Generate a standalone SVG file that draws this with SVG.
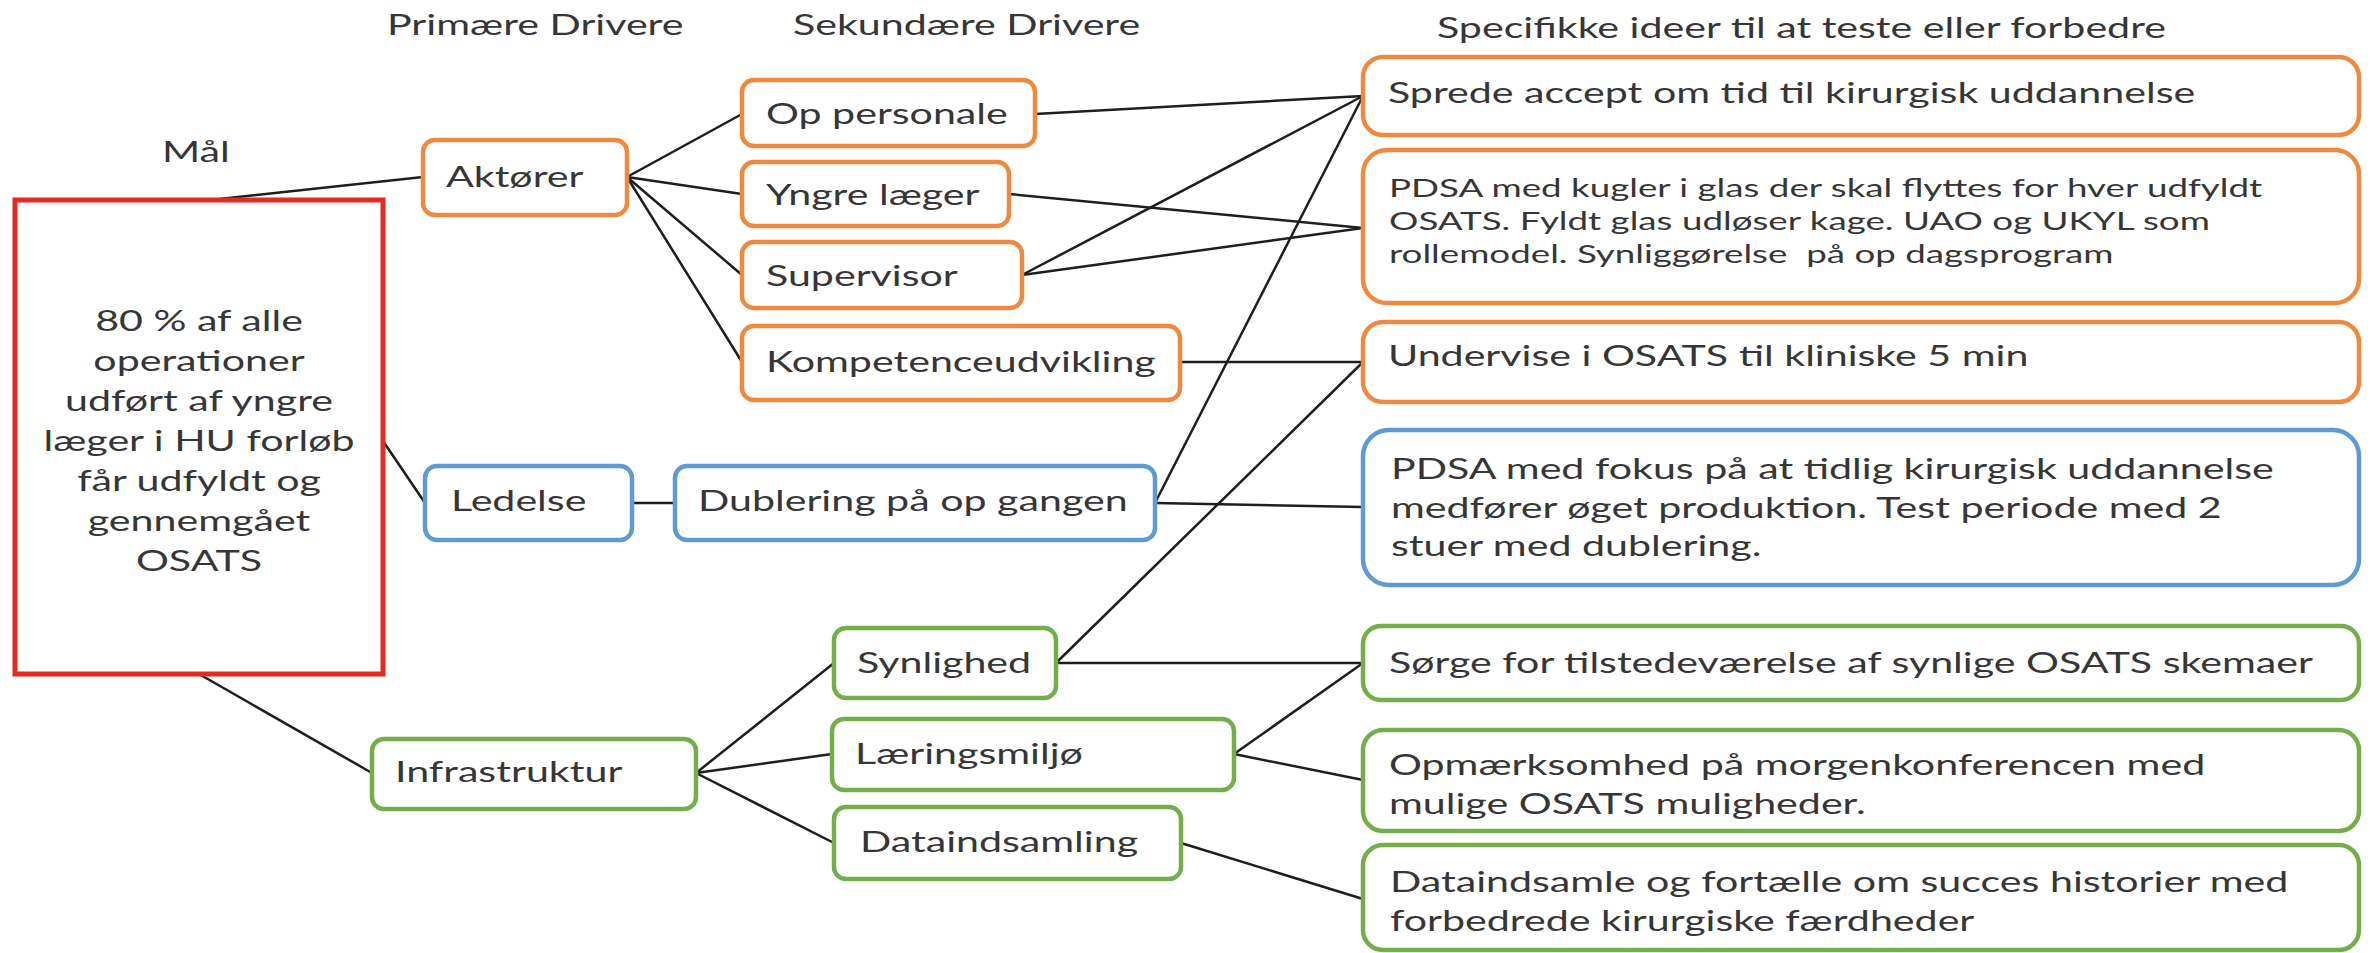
<svg xmlns="http://www.w3.org/2000/svg" width="2374" height="953" viewBox="0 0 2374 953">
<style>
.t{font-family:Lato,"Open Sans","Liberation Sans",sans-serif;font-size:28px;fill:#363636}
.s{font-family:Lato,"Open Sans","Liberation Sans",sans-serif;font-size:25px;fill:#363636}
.or{fill:#fff;stroke:#ee8a3f;stroke-width:4.5}
.bl{fill:#fff;stroke:#5f9bd2;stroke-width:4.5}
.gr{fill:#fff;stroke:#74ae4c;stroke-width:4.5}
.rd{fill:#fff;stroke:#e42b22;stroke-width:5}
.c line{stroke:#1e1e1e;stroke-width:2.5;stroke-linecap:round}
</style>
<rect width="2374" height="953" fill="#fff"/>
<g id="headers">
<text class="t" transform="translate(387 35) scale(1.47 1)">Primære Drivere</text>
<text class="t" transform="translate(793 35) scale(1.47 1)">Sekundære Drivere</text>
<text class="t" transform="translate(1437 38) scale(1.47 1)">Specifikke ideer til at teste eller forbedre</text>
<text class="t" transform="translate(162 162) scale(1.47 1)">Mål</text>
</g>
<g id="connectors" class="c">
<line x1="201" y1="201" x2="423" y2="177"/>
<line x1="383" y1="441" x2="425" y2="503"/>
<line x1="199" y1="674" x2="372" y2="773"/>
<line x1="627" y1="177" x2="742" y2="114"/>
<line x1="627" y1="177" x2="742" y2="194"/>
<line x1="627" y1="177" x2="742" y2="275"/>
<line x1="627" y1="177" x2="742" y2="362"/>
<line x1="1035" y1="114" x2="1363" y2="96"/>
<line x1="1009" y1="194" x2="1363" y2="228"/>
<line x1="1022" y1="275" x2="1363" y2="96"/>
<line x1="1022" y1="275" x2="1363" y2="228"/>
<line x1="1180" y1="362" x2="1363" y2="362"/>
<line x1="632" y1="503" x2="675" y2="503"/>
<line x1="1155" y1="503" x2="1363" y2="96"/>
<line x1="1155" y1="503" x2="1363" y2="507"/>
<line x1="696" y1="773" x2="834" y2="663"/>
<line x1="696" y1="773" x2="832" y2="754"/>
<line x1="696" y1="773" x2="834" y2="843"/>
<line x1="1056" y1="663" x2="1363" y2="362"/>
<line x1="1056" y1="663" x2="1363" y2="663"/>
<line x1="1234" y1="754" x2="1363" y2="663"/>
<line x1="1234" y1="754" x2="1363" y2="780"/>
<line x1="1181" y1="843" x2="1363" y2="899"/>
</g>
<g id="goal">
<rect class="rd" x="15" y="200" width="368" height="474"/>
<text class="t" text-anchor="middle" transform="translate(199 0) scale(1.47 1)"><tspan x="0" y="331">80 % af alle</tspan><tspan x="0" y="371">operationer</tspan><tspan x="0" y="411">udført af yngre</tspan><tspan x="0" y="451">læger i HU forløb</tspan><tspan x="0" y="491">får udfyldt og</tspan><tspan x="0" y="531">gennemgået</tspan><tspan x="0" y="571">OSATS</tspan></text>
</g>
<g id="aktoerer">
<rect class="or" x="423" y="140" width="204" height="75" rx="12"/>
<text class="t" transform="translate(446 187) scale(1.47 1)">Aktører</text>
</g>
<g id="ledelse">
<rect class="bl" x="425" y="466" width="207" height="74" rx="12"/>
<text class="t" transform="translate(451 511) scale(1.47 1)">Ledelse</text>
</g>
<g id="infrastruktur">
<rect class="gr" x="372" y="739" width="324" height="70" rx="12"/>
<text class="t" transform="translate(395 782) scale(1.47 1)">Infrastruktur</text>
</g>
<g id="op-personale">
<rect class="or" x="742" y="80" width="293" height="66" rx="12"/>
<text class="t" transform="translate(766 124) scale(1.47 1)">Op personale</text>
</g>
<g id="yngre-laeger">
<rect class="or" x="742" y="162" width="267" height="64" rx="12"/>
<text class="t" transform="translate(766 205) scale(1.47 1)">Yngre læger</text>
</g>
<g id="supervisor">
<rect class="or" x="742" y="242" width="280" height="66" rx="12"/>
<text class="t" transform="translate(766 286) scale(1.47 1)">Supervisor</text>
</g>
<g id="kompetenceudvikling">
<rect class="or" x="742" y="326" width="438" height="74" rx="12"/>
<text class="t" transform="translate(766 372) scale(1.47 1)">Kompetenceudvikling</text>
</g>
<g id="dublering">
<rect class="bl" x="675" y="466" width="480" height="74" rx="12"/>
<text class="t" transform="translate(698 511) scale(1.47 1)">Dublering på op gangen</text>
</g>
<g id="synlighed">
<rect class="gr" x="834" y="628" width="222" height="70" rx="12"/>
<text class="t" transform="translate(857 673) scale(1.47 1)">Synlighed</text>
</g>
<g id="laeringsmiljoe">
<rect class="gr" x="832" y="719" width="402" height="71" rx="12"/>
<text class="t" transform="translate(855 764) scale(1.47 1)">Læringsmiljø</text>
</g>
<g id="dataindsamling">
<rect class="gr" x="834" y="807" width="347" height="72" rx="12"/>
<text class="t" transform="translate(860 852) scale(1.47 1)">Dataindsamling</text>
</g>
<g id="sprede">
<rect class="or" x="1363" y="57" width="996" height="78" rx="20"/>
<text class="t" transform="translate(1388 103) scale(1.47 1)">Sprede accept om tid til kirurgisk uddannelse</text>
</g>
<g id="pdsa-kugler">
<rect class="or" x="1363" y="150" width="996" height="153" rx="24"/>
<text class="s" xml:space="preserve" transform="translate(1389 0) scale(1.47 1)"><tspan x="0" y="197">PDSA med kugler i glas der skal flyttes for hver udfyldt</tspan><tspan x="0" y="230">OSATS. Fyldt glas udløser kage. UAO og UKYL som</tspan><tspan x="0" y="263">rollemodel. Synliggørelse  på op dagsprogram</tspan></text>
</g>
<g id="undervise">
<rect class="or" x="1363" y="322" width="996" height="80" rx="20"/>
<text class="t" transform="translate(1388 366) scale(1.47 1)">Undervise i OSATS til kliniske 5 min</text>
</g>
<g id="pdsa-fokus">
<rect class="bl" x="1363" y="430" width="996" height="155" rx="26"/>
<text class="t" transform="translate(1391 0) scale(1.47 1)"><tspan x="0" y="479">PDSA med fokus på at tidlig kirurgisk uddannelse</tspan><tspan x="0" y="518">medfører øget produktion. Test periode med 2</tspan><tspan x="0" y="556">stuer med dublering.</tspan></text>
</g>
<g id="soerge">
<rect class="gr" x="1363" y="626" width="996" height="74" rx="18"/>
<text class="t" transform="translate(1389 673) scale(1.47 1)">Sørge for tilstedeværelse af synlige OSATS skemaer</text>
</g>
<g id="opmaerksomhed">
<rect class="gr" x="1363" y="730" width="996" height="101" rx="20"/>
<text class="t" transform="translate(1389 0) scale(1.47 1)"><tspan x="0" y="775">Opmærksomhed på morgenkonferencen med</tspan><tspan x="0" y="814">mulige OSATS muligheder.</tspan></text>
</g>
<g id="dataindsamle">
<rect class="gr" x="1363" y="845" width="996" height="105" rx="20"/>
<text class="t" transform="translate(1390 0) scale(1.47 1)"><tspan x="0" y="892">Dataindsamle og fortælle om succes historier med</tspan><tspan x="0" y="931">forbedrede kirurgiske færdheder</tspan></text>
</g>
</svg>
